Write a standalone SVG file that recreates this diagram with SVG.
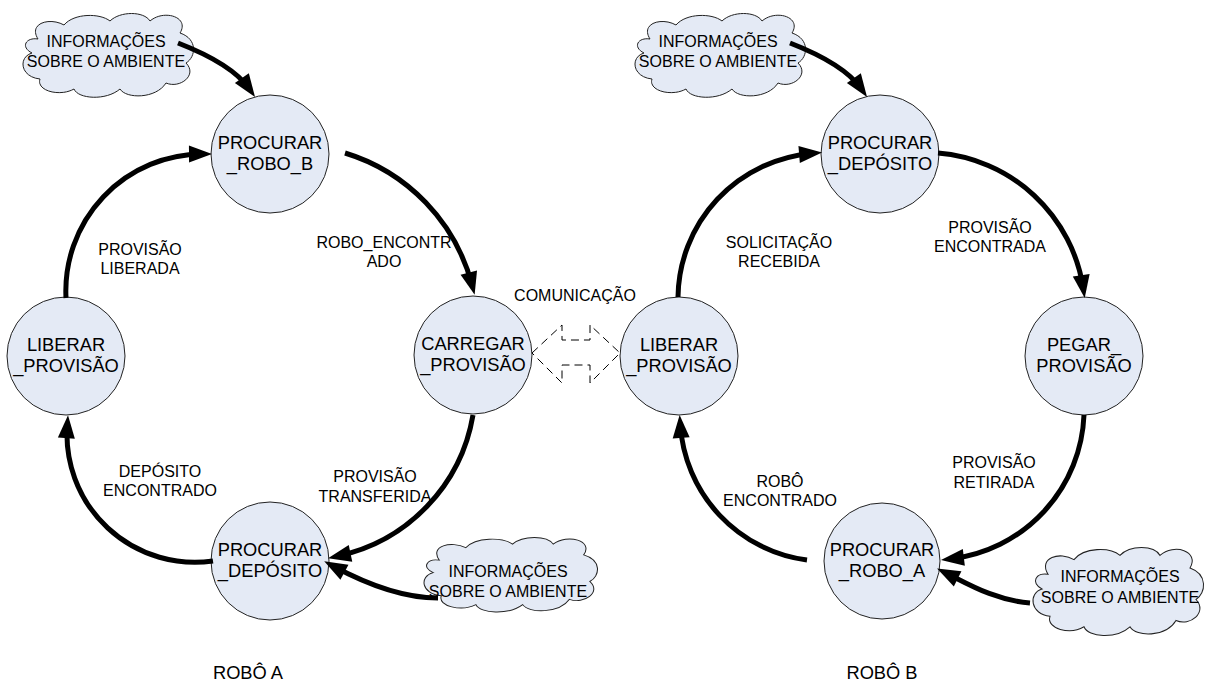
<svg xmlns="http://www.w3.org/2000/svg" xmlns:xlink="http://www.w3.org/1999/xlink" width="1210" height="683" viewBox="0 0 1210 683">
<style>
.st circle{fill:#e4eaf5;stroke:#222;stroke-width:1}
.cl{fill:#e4eaf5;stroke:#222;stroke-width:1}
text{font-family:"Liberation Sans",Arial,sans-serif;fill:#000;text-anchor:middle}
.t18{font-size:18.3px}
.t16{font-size:16px}
.arc{fill:none;stroke:#000;stroke-width:5;marker-end:url(#ah)}
.comm{fill:#fff;stroke:#000;stroke-width:1;stroke-dasharray:8 5}
</style>
<defs>
<marker id="ah" markerUnits="userSpaceOnUse" markerWidth="24" markerHeight="18" refX="13" refY="8.5" orient="auto" overflow="visible"><path d="M0,0 L23,8.5 L0,17 Z" fill="#000"/></marker>
<path id="cloud" d="M18,26 C8,10 30,4 44,12 C54,0 80,0 90,8 C100,-2 124,-2 130,8 C144,-4 170,4 160,20 C178,26 176,44 166,50 C178,62 160,76 146,70 C136,86 106,86 100,76 C86,88 58,86 54,76 C40,84 16,78 20,66 C0,64 -2,44 12,40 C0,34 6,24 18,26 Z"/>
</defs>
<rect width="1210" height="683" fill="#fff"/>

<!-- Robô A states -->
<g id="a_procurar_robo_b" class="st"><circle cx="270" cy="154" r="59"/><text class="t18" x="270" y="149">PROCURAR</text><text class="t18" x="270" y="169.5">_ROBO_B</text></g>
<g id="a_carregar_provisao" class="st"><circle cx="473" cy="355" r="59"/><text class="t18" x="473" y="350">CARREGAR</text><text class="t18" x="473" y="370.5">_PROVISÃO</text></g>
<g id="a_procurar_deposito" class="st"><circle cx="270" cy="561" r="59"/><text class="t18" x="270" y="556">PROCURAR</text><text class="t18" x="270" y="576.5">_DEPÓSITO</text></g>
<g id="a_liberar_provisao" class="st"><circle cx="66" cy="356" r="59"/><text class="t18" x="66" y="351">LIBERAR</text><text class="t18" x="66" y="371.5">_PROVISÃO</text></g>

<!-- Robô B states -->
<g id="b_procurar_deposito" class="st"><circle cx="880" cy="154" r="59"/><text class="t18" x="880" y="149">PROCURAR</text><text class="t18" x="880" y="169.5">_DEPÓSITO</text></g>
<g id="b_pegar_provisao" class="st"><circle cx="1084" cy="356" r="59"/><text class="t18" x="1084" y="351">PEGAR_</text><text class="t18" x="1084" y="371.5">PROVISÃO</text></g>
<g id="b_procurar_robo_a" class="st"><circle cx="882" cy="561" r="58"/><text class="t18" x="882" y="556">PROCURAR</text><text class="t18" x="882" y="576.5">_ROBO_A</text></g>
<g id="b_liberar_provisao" class="st"><circle cx="679" cy="356" r="59"/><text class="t18" x="679" y="351">LIBERAR</text><text class="t18" x="679" y="371.5">_PROVISÃO</text></g>

<!-- Clouds -->
<g id="cloud_a_top"><use xlink:href="#cloud" href="#cloud" class="cl" transform="translate(20,13)"/><text class="t16" x="106" y="47">INFORMAÇÕES</text><text class="t16" x="106" y="66.5">SOBRE O AMBIENTE</text></g>
<g id="cloud_b_top"><use xlink:href="#cloud" href="#cloud" class="cl" transform="translate(632,13)"/><text class="t16" x="718" y="47">INFORMAÇÕES</text><text class="t16" x="718" y="66.5">SOBRE O AMBIENTE</text></g>
<g id="cloud_a_bottom"><use xlink:href="#cloud" href="#cloud" class="cl" transform="translate(421,537) scale(1.017,0.89)"/><text class="t16" x="508" y="577">INFORMAÇÕES</text><text class="t16" x="508" y="597">SOBRE O AMBIENTE</text></g>
<g id="cloud_b_bottom"><use xlink:href="#cloud" href="#cloud" class="cl" transform="translate(1030,547) scale(1,1.05)"/><text class="t16" x="1120" y="582">INFORMAÇÕES</text><text class="t16" x="1120" y="603">SOBRE O AMBIENTE</text></g>

<!-- Connectors -->
<g id="connectors">
<path class="arc" d="M345,153 A188,188 0 0 1 472.1,285.2"/>
<path class="arc" d="M473,415 A174,174 0 0 1 337.8,556.1"/>
<path class="arc" d="M213,561 A128,128 0 0 1 67.3,425.1"/>
<path class="arc" d="M66,298 A137,137 0 0 1 202,154"/>
<path class="arc" d="M938,153 A160,160 0 0 1 1083.2,288.1"/>
<path class="arc" d="M1084,415 A151,151 0 0 1 950.9,558.9"/>
<path class="arc" d="M807,560 A146,146 0 0 1 680.3,424.9"/>
<path class="arc" d="M678,297 A146,146 0 0 1 812.1,153.4"/>
<path class="arc" d="M178,43 Q232,64 249.3,88.8"/>
<path class="arc" d="M790,43 Q844,64 861.3,88.8"/>
<path class="arc" d="M438,598 C405,598 370,586 333,566"/>
<path class="arc" d="M1030,603 C995,600 970,585 946,573"/>
<path class="comm" d="M532,353 L562,325 L562,340 L590,340 L590,325 L620,353 L590,383 L590,365 L562,365 L562,383 Z"/>
</g>

<!-- Labels -->
<g id="labels">
<text class="t16" x="384" y="248">ROBO_ENCONTR</text><text class="t16" x="384" y="267">ADO</text>
<text class="t16" x="140" y="255">PROVISÃO</text><text class="t16" x="140" y="274">LIBERADA</text>
<text class="t16" x="160" y="477">DEPÓSITO</text><text class="t16" x="160" y="496">ENCONTRADO</text>
<text class="t16" x="375" y="482">PROVISÃO</text><text class="t16" x="375" y="502">TRANSFERIDA</text>
<text class="t16" x="779" y="248">SOLICITAÇÃO</text><text class="t16" x="779" y="267">RECEBIDA</text>
<text class="t16" x="990" y="233">PROVISÃO</text><text class="t16" x="990" y="252">ENCONTRADA</text>
<text class="t16" x="780" y="487">ROBÔ</text><text class="t16" x="780" y="506">ENCONTRADO</text>
<text class="t16" x="994" y="468">PROVISÃO</text><text class="t16" x="994" y="488">RETIRADA</text>
<text class="t16" x="575" y="301">COMUNICAÇÃO</text>
<text class="t18" x="248" y="679">ROBÔ A</text>
<text class="t18" x="882" y="679">ROBÔ B</text>
</g>
</svg>
